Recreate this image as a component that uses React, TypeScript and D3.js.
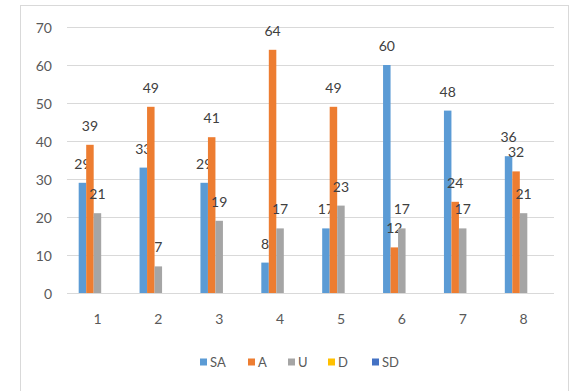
import React from "react";
import * as d3 from "d3";

const categories = ["1", "2", "3", "4", "5", "6", "7", "8"];
const seriesNames = ["SA", "A", "U", "D", "SD"];
const saValues = [29, 33, 29, 8, 17, 60, 48, 36];
const aValues = [39, 49, 41, 64, 49, 12, 24, 32];
const uValues = [21, 7, 19, 17, 23, 17, 17, 21];
const dValues = [0, 0, 0, 0, 0, 0, 0, 0];
const sdValues = [0, 0, 0, 0, 0, 0, 0, 0];
const yTicks = [0, 10, 20, 30, 40, 50, 60, 70];
const seriesColors = ["#5B9BD5", "#ED7D31", "#A5A5A5", "#FFC000", "#4472C4"];

const seriesValues = [saValues, aValues, uValues, dValues, sdValues];

const W = 576;
const H = 391;
const FONT = "Lato, 'Open Sans', 'DejaVu Sans', sans-serif";

export default function App() {
  const x = d3.scaleBand<string>().domain(categories).range([67, 554]).paddingInner(0.384).paddingOuter(0.192);
  const xs = d3.scaleBand<string>().domain(seriesNames).range([0, x.bandwidth()]);
  const y = d3.scaleLinear().domain([0, 70]).range([293, 27]);

  const legendX = [200, 248, 288, 328, 372];

  return (
    <div style={{ position: "fixed", left: 0, top: 0 }}>
      <svg width={W} height={H} style={{ display: "block", background: "#fff", fontFamily: FONT }}>
        <rect x={20.5} y={5.5} width={548} height={400} fill="#fff" stroke="#d9d9d9" />
        {yTicks.map((t) => (
          <g key={t}>
            <line x1={67} x2={554} y1={y(t) + 0.5} y2={y(t) + 0.5} stroke="#d9d9d9" strokeWidth={1} />
            <text x={52} y={y(t)} textAnchor="end" dominantBaseline="central" fontSize={14} fill="#595959">
              {t}
            </text>
          </g>
        ))}
        {categories.map((c, i) => (
          <g key={c}>
            {seriesNames.map((s, j) => {
              const v = seriesValues[j][i];
              const bx = (x(c) ?? 0) + (xs(s) ?? 0);
              const bw = xs.bandwidth();
              return (
                <g key={s}>
                  {v > 0 && (
                    <rect x={bx} y={y(v)} width={bw} height={y(0) - y(v)} fill={seriesColors[j]} />
                  )}
                  {v > 0 && (
                    <text x={bx + bw / 2} y={y(v) - 14} textAnchor="middle" fontSize={14} fill="#404040">
                      {v}
                    </text>
                  )}
                </g>
              );
            })}
            <text x={(x(c) ?? 0) + x.bandwidth() / 2} y={318} textAnchor="middle" dominantBaseline="central" fontSize={14} fill="#595959">
              {c}
            </text>
          </g>
        ))}
        {seriesNames.map((s, j) => (
          <g key={s} transform={`translate(${legendX[j]},362)`}>
            <rect x={0} y={-3.5} width={7} height={7} fill={seriesColors[j]} />
            <text x={10} y={0} dominantBaseline="central" fontSize={13} fill="#595959">
              {s}
            </text>
          </g>
        ))}
      </svg>
    </div>
  );
}
